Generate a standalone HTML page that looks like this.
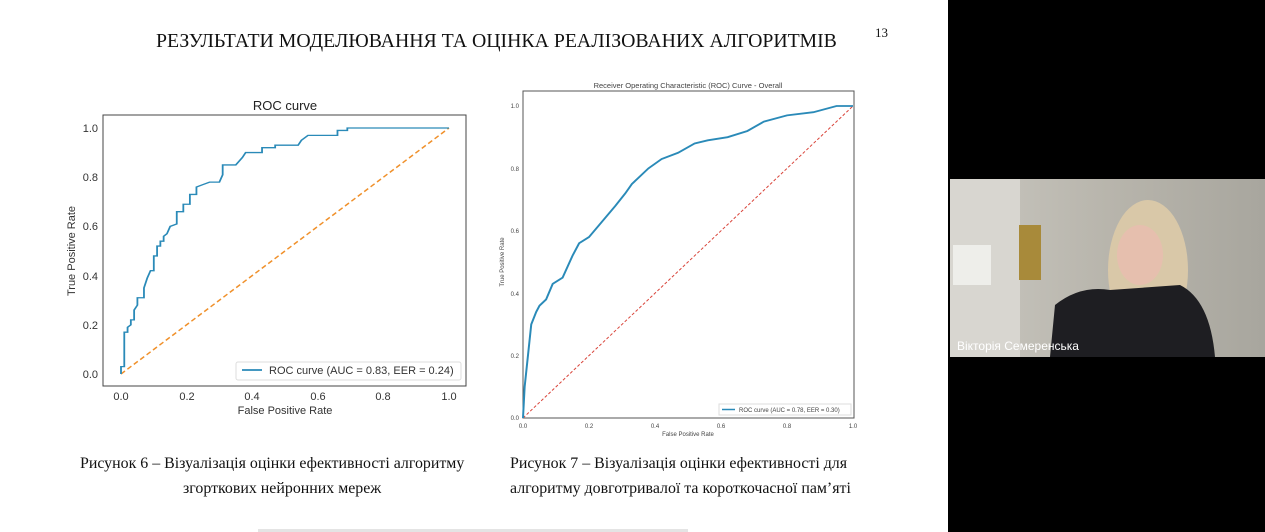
<!DOCTYPE html>
<html><head><meta charset="utf-8"><style>
body{margin:0;width:1265px;height:532px;overflow:hidden;background:#000;position:relative;font-family:"Liberation Serif",serif}
.slide{position:absolute;left:0;top:0;width:948px;height:532px;background:#fff}
.t{position:absolute;color:#111;white-space:nowrap}
</style></head><body>
<div class="slide"></div>
<div class="t" style="left:156px;top:30px;font-size:19.8px">РЕЗУЛЬТАТИ МОДЕЛЮВАННЯ ТА ОЦІНКА РЕАЛІЗОВАНИХ АЛГОРИТМІВ</div>
<div class="t" style="left:875px;top:25px;font-size:13px">13</div>
<div class="t" style="left:80px;top:455px;font-size:15.9px">Рисунок 6 – Візуалізація оцінки ефективності алгоритму</div>
<div class="t" style="left:183px;top:480px;font-size:15.9px">згорткових нейронних мереж</div>
<div class="t" style="left:510px;top:455px;font-size:15.9px">Рисунок 7 – Візуалізація оцінки ефективності для</div>
<div class="t" style="left:510px;top:480px;font-size:15.9px">алгоритму довготривалої та короткочасної пам’яті</div>
<svg width="1265" height="532" style="position:absolute;left:0;top:0" font-family="Liberation Sans, DejaVu Sans, sans-serif">
<text x="285" y="110" font-size="13" text-anchor="middle" fill="#222">ROC curve</text>
<rect x="103" y="115" width="363" height="271" fill="none" stroke="#444" stroke-width="1"/>
<g font-size="11" fill="#333" text-anchor="end">
<text x="98" y="378">0.0</text><text x="98" y="329">0.2</text><text x="98" y="280">0.4</text><text x="98" y="230">0.6</text><text x="98" y="181">0.8</text><text x="98" y="132">1.0</text></g>
<g font-size="11" fill="#333" text-anchor="middle">
<text x="121" y="400">0.0</text><text x="187" y="400">0.2</text><text x="252" y="400">0.4</text><text x="318" y="400">0.6</text><text x="383" y="400">0.8</text><text x="449" y="400">1.0</text></g>
<text x="285" y="414" font-size="11" text-anchor="middle" fill="#333">False Positive Rate</text>
<text transform="translate(75,251) rotate(-90)" font-size="11" text-anchor="middle" fill="#333">True Positive Rate</text>
<line x1="121" y1="374" x2="449" y2="128" stroke="#f0902a" stroke-width="1.5" stroke-dasharray="5,3"/>
<g transform="translate(121,374) scale(328,-246)">
<polyline fill="none" stroke="#2a8ab8" stroke-width="0.0055" points="0,0 0,0.03 0.01,0.03 0.01,0.17 0.02,0.17 0.02,0.19 0.03,0.2 0.03,0.22 0.04,0.22 0.04,0.26 0.05,0.28 0.05,0.31 0.07,0.31 0.07,0.35 0.08,0.39 0.09,0.42 0.1,0.42 0.1,0.48 0.11,0.48 0.11,0.52 0.12,0.52 0.12,0.54 0.13,0.54 0.13,0.56 0.14,0.57 0.15,0.6 0.17,0.61 0.17,0.66 0.19,0.66 0.19,0.69 0.21,0.69 0.21,0.73 0.23,0.73 0.23,0.76 0.25,0.77 0.27,0.78 0.3,0.78 0.31,0.81 0.31,0.85 0.35,0.85 0.37,0.88 0.38,0.9 0.43,0.9 0.43,0.92 0.47,0.92 0.47,0.93 0.54,0.93 0.55,0.95 0.57,0.97 0.66,0.97 0.66,0.99 0.69,0.99 0.69,1 1,1"/></g>
<rect x="236" y="362" width="225" height="18" fill="#fff" stroke="#ddd" rx="2"/>
<line x1="242" y1="370" x2="262" y2="370" stroke="#2a8ab8" stroke-width="1.8"/>
<text x="269" y="374" font-size="11" fill="#333">ROC curve (AUC = 0.83, EER = 0.24)</text>
<text x="688" y="88" font-size="7.5" text-anchor="middle" fill="#444">Receiver Operating Characteristic (ROC) Curve - Overall</text>
<rect x="523" y="91" width="331" height="327" fill="none" stroke="#555" stroke-width="1"/>
<g font-size="6" fill="#444" text-anchor="end">
<text x="519" y="420">0.0</text><text x="519" y="358">0.2</text><text x="519" y="296">0.4</text><text x="519" y="233">0.6</text><text x="519" y="171">0.8</text><text x="519" y="108">1.0</text></g>
<g font-size="6" fill="#444" text-anchor="middle">
<text x="523" y="428">0.0</text><text x="589" y="428">0.2</text><text x="655" y="428">0.4</text><text x="721" y="428">0.6</text><text x="787" y="428">0.8</text><text x="853" y="428">1.0</text></g>
<text x="688" y="436" font-size="6" text-anchor="middle" fill="#444">False Positive Rate</text>
<text transform="translate(504,262) rotate(-90)" font-size="6" text-anchor="middle" fill="#444">True Positive Rate</text>
<line x1="523" y1="418" x2="853" y2="106" stroke="#d9443a" stroke-width="1" stroke-dasharray="3,2"/>
<g transform="translate(523,418) scale(330,-312)">
<polyline fill="none" stroke="#2a8ab8" stroke-width="0.006" points="0,0 0.005,0.1 0.015,0.2 0.025,0.3 0.04,0.34 0.05,0.36 0.07,0.38 0.09,0.43 0.12,0.45 0.15,0.52 0.17,0.56 0.2,0.58 0.24,0.63 0.28,0.68 0.31,0.72 0.33,0.75 0.38,0.8 0.42,0.83 0.47,0.85 0.52,0.88 0.56,0.89 0.62,0.9 0.68,0.92 0.73,0.95 0.8,0.97 0.88,0.98 0.95,1 1,1"/></g>
<rect x="719" y="404" width="132" height="11" fill="#fff" stroke="#ddd"/>
<line x1="722" y1="409.5" x2="735" y2="409.5" stroke="#2a8ab8" stroke-width="1.5"/>
<text x="739" y="412" font-size="6" fill="#444">ROC curve (AUC = 0.78, EER = 0.30)</text>
<defs><linearGradient id="bg" x1="0" x2="1"><stop offset="0" stop-color="#c9c7c0"/><stop offset="0.5" stop-color="#b8b5ac"/><stop offset="1" stop-color="#a8a69e"/></linearGradient></defs>
<rect x="950" y="179" width="315" height="178" fill="url(#bg)"/>
<rect x="950" y="179" width="70" height="178" fill="#d8d6d0"/>
<rect x="953" y="245" width="38" height="40" fill="#eeeeea"/>
<rect x="1019" y="225" width="22" height="55" fill="#a88a3a"/>
<ellipse cx="1148" cy="270" rx="40" ry="70" fill="#d9c8a8"/>
<ellipse cx="1140" cy="255" rx="23" ry="30" fill="#e6bfae"/>
<path d="M1050 357 L1055 305 Q1080 285 1110 290 L1180 285 Q1210 300 1215 357Z" fill="#1e1e22"/>
<text x="957" y="350" font-size="12" fill="#fff">Вікторія Семеренська</text>
<rect x="258" y="529" width="430" height="3" fill="#e4e4e4"/>
</svg>
</body></html>
